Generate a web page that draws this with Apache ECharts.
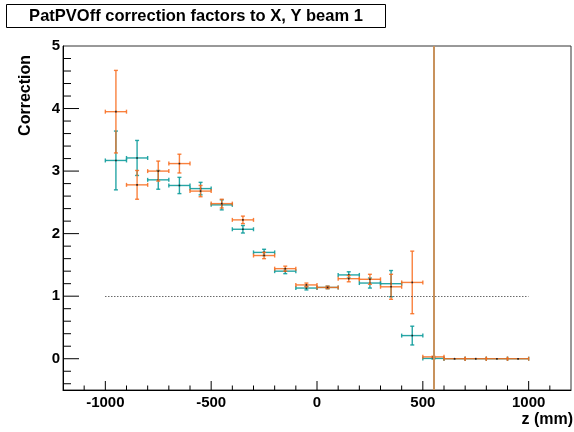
<!DOCTYPE html>
<html>
<head>
<meta charset="utf-8">
<script src="https://cdn.jsdelivr.net/npm/echarts@6/dist/echarts.min.js"></script>
<style>
  html, body { margin: 0; padding: 0; background: #fff; }
  #main { width: 574px; height: 432px; }
</style>
</head>
<body>
<div id="main"></div>
<script>
// bin centres (mm), each bin is 100 mm wide
var zBins = [-950, -850, -750, -650, -550, -450, -350, -250, -150, -50,
             50, 150, 250, 350, 450, 550, 650, 750, 850, 950];
var binHalf = 50;

var tealVal = [3.17, 3.21, 2.86, 2.77, 2.72, 2.46, 2.07, 1.70, 1.40, 1.13,
               1.14, 1.34, 1.21, 1.20, 0.37, 0.005, 0, 0, 0, 0];
var tealErr = [0.47, 0.28, 0.15, 0.13, 0.10, 0.08, 0.06, 0.05, 0.04, 0.03,
               0.02, 0.05, 0.08, 0.21, 0.15, 0.01, 0, 0, 0, 0];
var orangeVal = [3.95, 2.78, 3.00, 3.12, 2.68, 2.48, 2.22, 1.65, 1.44, 1.18,
                 1.14, 1.28, 1.27, 1.15, 1.22, 0.03, 0, 0, 0, 0];
var orangeErr = [0.66, 0.23, 0.16, 0.15, 0.09, 0.07, 0.06, 0.05, 0.04, 0.03,
                 0.02, 0.05, 0.08, 0.20, 0.50, 0.01, 0, 0, 0, 0];

// axis ticks (ROOT style, drawn inside the frame)
var xMajorTicks = [-1000, -500, 0, 500, 1000];
var xMinorTicks = [-1100, -900, -800, -700, -600, -400, -300, -200, -100,
                   100, 200, 300, 400, 600, 700, 800, 900, 1100];
var yMajorTicks = [0, 1, 2, 3, 4];
var yMinorTicks = [-0.4, -0.2, 0.2, 0.4, 0.6, 0.8, 1.2, 1.4, 1.6, 1.8,
                   2.2, 2.4, 2.6, 2.8, 3.2, 3.4, 3.6, 3.8, 4.2, 4.4, 4.6, 4.8];

var refLevel = 1;
var cutZ = 550;

var font = 'Liberation Sans';
var teal = '#109c9c';
var orange = '#f86b1c';

function mk(vals, errs) {
    return zBins.map(function (z, i) { return [z, vals[i], errs[i]]; });
}

function errRender(color, alpha) {
    return function (params, api) {
        var x = api.value(0), y = api.value(1), e = api.value(2);
        var l = api.coord([x - binHalf, y]);
        var r = api.coord([x + binHalf, y]);
        var c = api.coord([x, y]);
        var st = {stroke: color, lineWidth: 1.4, opacity: alpha};
        var kids = [
            {type: 'line', shape: {x1: l[0], y1: l[1], x2: r[0], y2: r[1]}, style: st},
            {type: 'line', shape: {x1: l[0], y1: l[1] - 2, x2: l[0], y2: l[1] + 2}, style: st},
            {type: 'line', shape: {x1: r[0], y1: r[1] - 2, x2: r[0], y2: r[1] + 2}, style: st}
        ];
        if (e > 0) {
            var t = api.coord([x, y + e]);
            var b = api.coord([x, y - e]);
            kids.push({type: 'line', shape: {x1: t[0], y1: t[1], x2: b[0], y2: b[1]}, style: st});
            kids.push({type: 'line', shape: {x1: t[0] - 2, y1: t[1], x2: t[0] + 2, y2: t[1]}, style: st});
            kids.push({type: 'line', shape: {x1: b[0] - 2, y1: b[1], x2: b[0] + 2, y2: b[1]}, style: st});
        }
        kids.push({type: 'rect', shape: {x: c[0] - 0.8, y: c[1] - 0.8, width: 1.6, height: 1.6},
                   style: {fill: '#222'}});
        return {type: 'group', children: kids};
    };
}

var tickData = [];
xMajorTicks.forEach(function (v) { tickData.push([v, 0, 9]); });
xMinorTicks.forEach(function (v) { tickData.push([v, 0, 4.5]); });
yMajorTicks.forEach(function (v) { tickData.push([v, 1, 16]); });
yMinorTicks.forEach(function (v) { tickData.push([v, 1, 8]); });

var myChart = echarts.init(document.getElementById('main'));
var option = {
    backgroundColor: '#fff',
    animation: false,
    grid: {
        left: 63, right: 1, top: 46, bottom: 42,
        show: true, borderColor: '#333', borderWidth: 1
    },
    xAxis: {
        type: 'value',
        min: -1200, max: 1200, interval: 100,
        axisLine: {onZero: false, lineStyle: {color: '#000', width: 1}},
        axisTick: {show: false},
        splitLine: {show: false},
        axisLabel: {
            margin: 5,
            color: '#000', fontFamily: font, fontWeight: 'bold', fontSize: 15,
            formatter: function (v) {
                return (v % 500 === 0 && Math.abs(v) <= 1000) ? String(v) : '';
            }
        }
    },
    yAxis: {
        type: 'value',
        min: -0.5, max: 5, interval: 0.5,
        axisLine: {onZero: false, lineStyle: {color: '#000', width: 1}},
        axisTick: {show: false},
        splitLine: {show: false},
        axisLabel: {
            margin: 3,
            color: '#000', fontFamily: font, fontWeight: 'bold', fontSize: 15,
            formatter: function (v) {
                return Math.abs(v - Math.round(v)) < 1e-6 ? String(Math.round(v)) : '';
            }
        }
    },
    graphic: [
        {type: 'rect', left: 6, top: 4, shape: {width: 379, height: 23},
         style: {fill: '#fff', stroke: '#000', lineWidth: 1}},
        {type: 'text', x: 196, y: 16,
         style: {text: 'PatPVOff correction factors to X, Y beam 1', fill: '#000',
                 font: 'bold 16.5px "Liberation Sans"', textAlign: 'center', textVerticalAlign: 'middle'}},
        {type: 'text', x: 26, y: 55, rotation: Math.PI / 2,
         style: {text: 'Correction', fill: '#000',
                 font: 'bold 16px "Liberation Sans"', textAlign: 'right', textVerticalAlign: 'middle'}},
        {type: 'text', x: 573, y: 420,
         style: {text: 'z (mm)', fill: '#000',
                 font: 'bold 16px "Liberation Sans"', textAlign: 'right', textVerticalAlign: 'middle'}}
    ],
    series: [
        {
            name: 'ticks',
            type: 'custom',
            silent: true,
            z: 1,
            data: tickData,
            renderItem: function (params, api) {
                var v = api.value(0), ax = api.value(1), len = api.value(2);
                var p, shape;
                if (ax === 0) {
                    p = api.coord([v, -0.5]);
                    shape = {x1: p[0], y1: p[1], x2: p[0], y2: p[1] - len};
                } else {
                    p = api.coord([-1200, v]);
                    shape = {x1: p[0], y1: p[1], x2: p[0] + len, y2: p[1]};
                }
                return {type: 'line', shape: shape, style: {stroke: '#000', lineWidth: 1}};
            }
        },
        {
            name: 'lines',
            type: 'line',
            data: [],
            silent: true,
            markLine: {
                silent: true,
                symbol: 'none',
                label: {show: false},
                data: [
                    [{coord: [-1000, refLevel], lineStyle: {color: '#222', width: 1, type: [1, 2]}},
                     {coord: [1000, refLevel]}],
                    {xAxis: cutZ, lineStyle: {color: '#c8925c', width: 2, type: 'solid'}}
                ]
            }
        },
        {
            name: 'teal',
            type: 'custom',
            z: 3,
            data: mk(tealVal, tealErr),
            renderItem: errRender(teal, 0.9)
        },
        {
            name: 'orange',
            type: 'custom',
            z: 4,
            data: mk(orangeVal, orangeErr),
            renderItem: errRender(orange, 0.85)
        }
    ]
};
myChart.setOption(option);
window.onresize = myChart.resize;
</script>
</body>
</html>
